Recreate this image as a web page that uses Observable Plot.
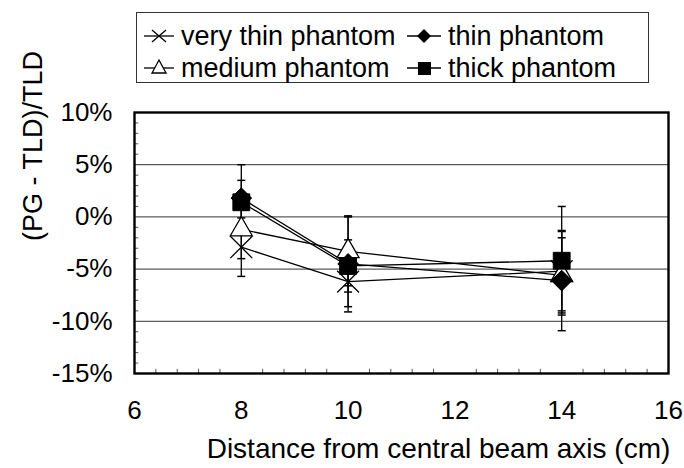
<!DOCTYPE html>
<html>
<head>
<meta charset="utf-8">
<script src="https://cdn.jsdelivr.net/npm/d3@7"></script>
<script src="https://cdn.jsdelivr.net/npm/@observablehq/plot@0.6"></script>
<style>
  html, body { margin: 0; padding: 0; background: white; }
  #wrap { position: relative; width: 684px; height: 468px; font-family: 'Liberation Sans', Arial, sans-serif; }
  #chart { position: absolute; left: 0; top: 0; }
  #legend { position: absolute; left: 136px; top: 12px; width: 511px; height: 69px; border: 1px solid #333; background: white; }
  .item { position: absolute; height: 30px; display: flex; align-items: center; font-size: 27px; color: black; white-space: nowrap; }
  .item svg { margin-right: 5px; }
</style>
</head>
<body>
<div id="wrap">
  <div id="chart"></div>
  <div id="legend"></div>
</div>
<script>
// ---- data ----
const distances = [8, 10, 14];
const seriesNames = ["very thin phantom", "thin phantom", "medium phantom", "thick phantom"];
const veryThin = [-2.9, -6.2, -5.2];
const veryThinErr = [2.8, 2.4, 3.8];
const medium = [-1.2, -3.3, -5.6];
const mediumErr = [2.8, 3.3, 3.6];
const thin = [1.8, -4.5, -6.1];
const thinErr = [3.2, 4.6, 4.8];
const thick = [1.4, -4.7, -4.2];
const thickErr = [2.1, 2.5, 5.2];
const xTicks = [6, 8, 10, 12, 14, 16];
const yTicks = [-15, -10, -5, 0, 5, 10];
const xLabel = "Distance from central beam axis (cm)";
const yLabel = "(PG - TLD)/TLD";

// ---- build table ----
const seriesValues = {
  "very thin phantom": [veryThin, veryThinErr],
  "thin phantom": [thin, thinErr],
  "medium phantom": [medium, mediumErr],
  "thick phantom": [thick, thickErr]
};
const rows = [];
for (const name of seriesNames) {
  const [vals, errs] = seriesValues[name];
  distances.forEach((x, i) => rows.push({series: name, x, y: vals[i], e: errs[i]}));
}
const xMinor = d3.range(6.4, 16, 0.4).filter(v => Math.abs(v / 2 - Math.round(v / 2)) > 1e-6);
const yMinor = d3.range(-14, 10, 1).filter(v => v % 5 !== 0);
const capHalf = 0.075;

const styles = {
  "very thin phantom": {symbol: "times", r: 10, fill: "none", stroke: "black", strokeWidth: 1.3},
  "medium phantom": {symbol: "triangle2", r: 10.5, fill: "white", stroke: "black", strokeWidth: 1.3},
  "thin phantom": {symbol: "diamond2", r: 9.3, fill: "black", stroke: "black", strokeWidth: 1},
  "thick phantom": {symbol: "square", r: 9.5, fill: "black", stroke: "black", strokeWidth: 1}
};
const drawOrder = ["very thin phantom", "medium phantom", "thin phantom", "thick phantom"];

const chart = Plot.plot({
  width: 684,
  height: 468,
  marginLeft: 134,
  marginRight: 16,
  marginTop: 112,
  marginBottom: 95,
  x: {domain: [6, 16]},
  y: {domain: [-15, 10]},
  style: {fontFamily: "'Liberation Sans', Arial, sans-serif", fontSize: "26px", background: "white", color: "black"},
  marks: [
    Plot.ruleY(yTicks, {stroke: "#333", strokeWidth: 1}),
    Plot.ruleX(xMinor, {y1: -15, y2: -14.6, stroke: "#555", strokeWidth: 1}),
    Plot.ruleY(yMinor, {x1: 6, x2: 6.08, stroke: "#555", strokeWidth: 1}),
    Plot.axisX({ticks: xTicks, tickSize: 0, tickPadding: 27, label: null}),
    Plot.axisY({ticks: yTicks, tickSize: 0, tickPadding: 22, tickFormat: d => d + "%", label: null}),
    Plot.text([xLabel], {frameAnchor: "bottom", lineAnchor: "middle", dx: 37, dy: 76, fontSize: 28, text: d => d}),
    Plot.text([yLabel], {frameAnchor: "left", lineAnchor: "middle", dx: -101, dy: -2, rotate: -90, fontSize: 27, text: d => d}),
    Plot.line(rows, {x: "x", y: "y", z: "series", stroke: "black", strokeWidth: 1.3}),
    Plot.ruleX(rows, {x: "x", y1: d => d.y - d.e, y2: d => d.y + d.e, stroke: "black", strokeWidth: 1.3}),
    Plot.link(rows, {x1: d => d.x - capHalf, x2: d => d.x + capHalf, y1: d => d.y + d.e, y2: d => d.y + d.e, stroke: "black", strokeWidth: 1.5}),
    Plot.link(rows, {x1: d => d.x - capHalf, x2: d => d.x + capHalf, y1: d => d.y - d.e, y2: d => d.y - d.e, stroke: "black", strokeWidth: 1.5}),
    ...drawOrder.map(name => Plot.dot(rows.filter(d => d.series === name), {x: "x", y: "y", ...styles[name]})),
    Plot.frame({stroke: "black", strokeWidth: 2.4})
  ]
});
document.getElementById("chart").appendChild(chart);

// ---- legend ----
const legendPos = {
  "very thin phantom": [7, 8],
  "thin phantom": [270, 8],
  "medium phantom": [7, 40],
  "thick phantom": [270, 40]
};
const legendIcon = {
  "very thin phantom": '<line x1="0" y1="12" x2="30" y2="12" stroke="black" stroke-width="1.3"/><path d="M8,6L22,18M8,18L22,6" stroke="black" stroke-width="1.3"/>',
  "thin phantom": '<line x1="0" y1="12" x2="34" y2="12" stroke="black" stroke-width="1.3"/><path d="M17,5L24,12L17,19L10,12Z" fill="black"/>',
  "medium phantom": '<line x1="0" y1="12" x2="30" y2="12" stroke="black" stroke-width="1.3"/><path d="M15,4L22,17L8,17Z" fill="white" stroke="black" stroke-width="1.3"/>',
  "thick phantom": '<line x1="0" y1="12" x2="34" y2="12" stroke="black" stroke-width="1.3"/><rect x="11" y="6" width="13" height="13" fill="black"/>'
};
const legend = document.getElementById("legend");
for (const name of seriesNames) {
  const [lx, ly] = legendPos[name];
  const div = document.createElement("div");
  div.className = "item";
  div.style.left = lx + "px";
  div.style.top = ly + "px";
  const w = name === "thin phantom" || name === "thick phantom" ? 36 : 32;
  div.innerHTML = `<svg width="${w}" height="24">${legendIcon[name]}</svg><span>${name}</span>`;
  legend.appendChild(div);
}
</script>
</body>
</html>
